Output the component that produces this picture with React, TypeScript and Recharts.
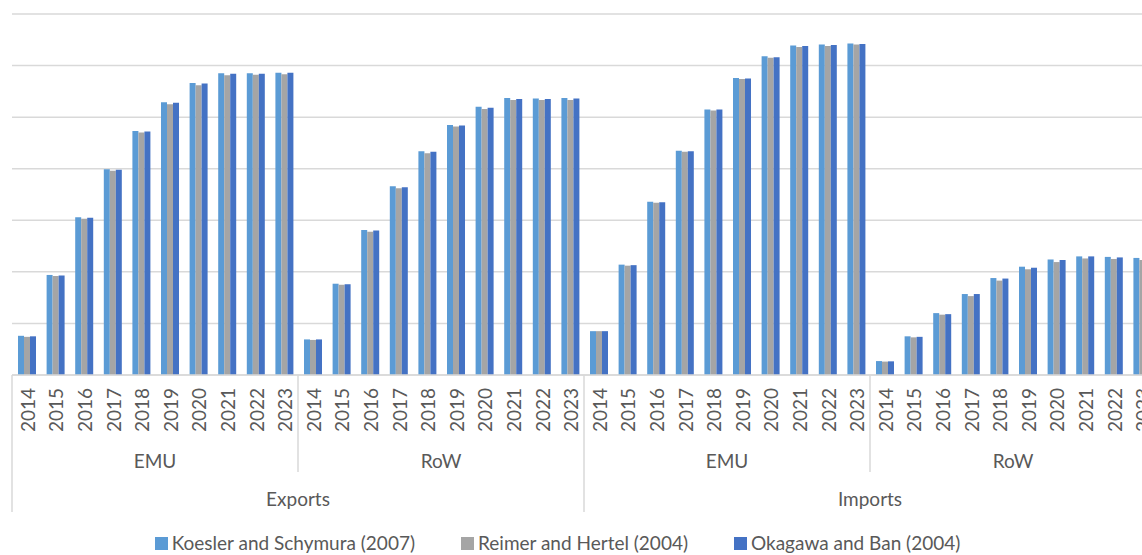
import React from 'react';
import { BarChart, Bar, XAxis, YAxis, CartesianGrid, Legend } from 'recharts';

const years = ['2014', '2015', '2016', '2017', '2018', '2019', '2020', '2021', '2022', '2023'];
const regions = ['EMU', 'RoW'];
const flows = ['Exports', 'Imports'];

const seriesNames = ['Koesler and Schymura (2007)', 'Reimer and Hertel (2004)', 'Okagawa and Ban (2004)'];
const seriesColors = ['#5B9BD5', '#A5A5A5', '#4472C4'];

// order: Exports EMU, Exports RoW, Imports EMU, Imports RoW (each 2014..2023)
const koesler = [
  7.6, 19.4, 30.6, 39.9, 47.3, 52.9, 56.6, 58.5, 58.5, 58.6,
  6.9, 17.7, 28.1, 36.6, 43.4, 48.5, 52.0, 53.7, 53.6, 53.7,
  8.5, 21.4, 33.6, 43.5, 51.5, 57.6, 61.8, 63.9, 64.1, 64.3,
  2.7, 7.5, 12.0, 15.7, 18.8, 21.0, 22.4, 23.0, 22.9, 22.7,
];
const reimer = [
  7.4, 19.2, 30.3, 39.6, 47.0, 52.5, 56.2, 58.1, 58.2, 58.3,
  6.8, 17.5, 27.8, 36.2, 43.0, 48.2, 51.6, 53.3, 53.3, 53.3,
  8.5, 21.2, 33.4, 43.3, 51.3, 57.4, 61.5, 63.6, 63.8, 64.1,
  2.6, 7.3, 11.7, 15.3, 18.3, 20.5, 21.9, 22.6, 22.5, 22.3,
];
const okagawa = [
  7.5, 19.3, 30.5, 39.8, 47.2, 52.8, 56.5, 58.4, 58.4, 58.6,
  6.9, 17.6, 28.0, 36.4, 43.3, 48.4, 51.8, 53.5, 53.5, 53.6,
  8.5, 21.3, 33.5, 43.4, 51.5, 57.5, 61.6, 63.8, 64.0, 64.2,
  2.65, 7.4, 11.8, 15.7, 18.7, 20.8, 22.3, 23.0, 22.8, 22.65,
];

const yTicks = [0, 10, 20, 30, 40, 50, 60, 70];

const data = koesler.map((v, i) => ({
  key: `${flows[Math.floor(i / 20)]}|${regions[Math.floor(i / 10) % 2]}|${years[i % 10]}`,
  year: years[i % 10],
  region: regions[Math.floor(i / 10) % 2],
  flow: flows[Math.floor(i / 20)],
  k: v,
  r: reimer[i],
  o: okagawa[i],
}));

const W = 1160;
const H = 555;
const M = { top: 14, right: 4, left: 12, bottom: 43 };
const N = data.length;
const BAND = (W - M.left - M.right) / N;
const AXIS_H = 137;
const FONT = 'Lato, "Open Sans", sans-serif';
const TEXT = '#595959';
const LINE = '#D9D9D9';

const AxisTick = (props: any) => {
  const { x, y, payload } = props;
  const i = payload.index;
  const half = BAND / 2;
  const d = data[i];
  return (
    <g>
      <text
        transform={`translate(${x + 1},${y + 13}) rotate(-90)`}
        textAnchor="end"
        dominantBaseline="central"
        fontSize={19}
        fill={TEXT}
        fontFamily={FONT}
      >
        {d.year}
      </text>
      {i % 10 === 0 && (
        <line x1={x - half} x2={x - half} y1={y} y2={y + (i % 20 === 0 ? AXIS_H : 97)} stroke={LINE} strokeWidth={1.5} />
      )}
      {i === N - 1 && (
        <line x1={x + half} x2={x + half} y1={y} y2={y + AXIS_H} stroke={LINE} strokeWidth={1.5} />
      )}
      {i % 10 === 4 && (
        <text x={x + half} y={y + 85} textAnchor="middle" dominantBaseline="central" fontSize={19} fill={TEXT} fontFamily={FONT}>
          {d.region}
        </text>
      )}
      {i % 20 === 9 && (
        <text x={x + half} y={y + 123} textAnchor="middle" dominantBaseline="central" fontSize={19} fill={TEXT} fontFamily={FONT}>
          {d.flow}
        </text>
      )}
    </g>
  );
};

const LegendContent = () => (
  <div style={{ display: 'flex', justifyContent: 'center', alignItems: 'center', gap: 46, fontFamily: FONT, fontSize: 19, color: TEXT, lineHeight: '24px' }}>
    {seriesNames.map((n, i) => (
      <div key={n} style={{ display: 'flex', alignItems: 'center' }}>
        <span style={{ display: 'inline-block', width: 13, height: 13, background: seriesColors[i], marginRight: 4 }} />
        <span>{n}</span>
      </div>
    ))}
  </div>
);

export default function App() {
  return (
    <div style={{ position: 'absolute', left: 0, top: 0, width: 1142, height: H, overflow: 'hidden', background: '#fff' }}>
      <BarChart width={W} height={H} data={data} margin={M} barGap={0} barCategoryGap="21%">
        <CartesianGrid vertical={false} stroke={LINE} strokeWidth={1.5} />
        <YAxis hide domain={[0, 70]} ticks={yTicks} />
        <XAxis
          dataKey="key"
          interval={0}
          height={AXIS_H}
          tickLine={false}
          tickSize={0}
          tickMargin={0}
          axisLine={{ stroke: LINE, strokeWidth: 1.5 }}
          tick={<AxisTick />}
        />
        <Legend
          verticalAlign="middle"
          layout="horizontal"
          content={<LegendContent />}
          wrapperStyle={{ position: 'absolute', top: 531, left: 0, width: 1115 }}
        />
        <Bar dataKey="k" name={seriesNames[0]} fill={seriesColors[0]} isAnimationActive={false} />
        <Bar dataKey="r" name={seriesNames[1]} fill={seriesColors[1]} isAnimationActive={false} />
        <Bar dataKey="o" name={seriesNames[2]} fill={seriesColors[2]} isAnimationActive={false} />
      </BarChart>
    </div>
  );
}
